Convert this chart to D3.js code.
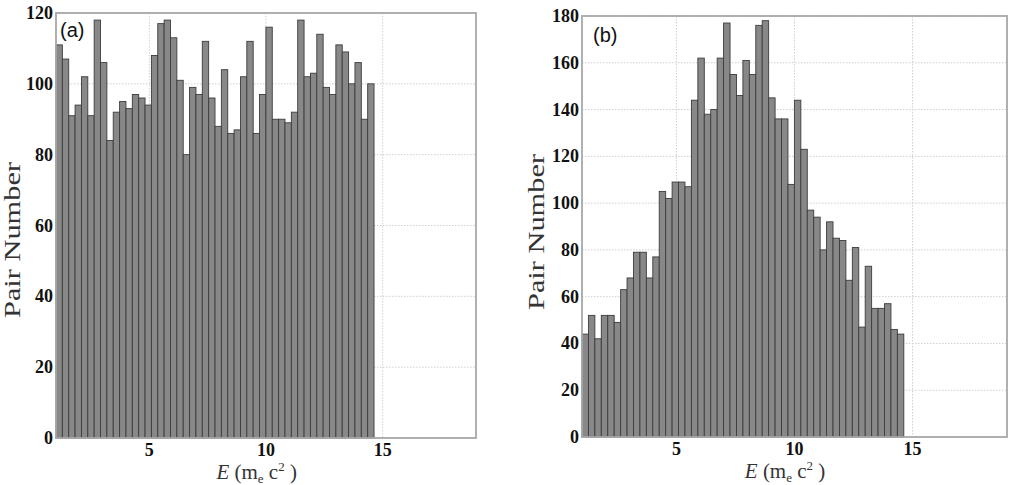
<!DOCTYPE html>
<html>
<head>
<meta charset="utf-8">
<script src="https://cdn.jsdelivr.net/npm/d3@7"></script>
<style>
  body { margin: 0; background: #fff; }
  .tick-label { font-family: "Liberation Serif", "DejaVu Serif", serif; font-weight: bold; font-size: 18px; fill: #111; }
  .ylab { font-family: "Liberation Serif", serif; font-size: 23px; fill: #333; }
  .xlab { font-family: "Liberation Serif", serif; font-size: 21px; fill: #333; }
  .panel-tag { font-family: "Liberation Sans", "DejaVu Sans", sans-serif; font-size: 20px; fill: #111; }
</style>
</head>
<body>
<svg id="chart" width="1014" height="485"></svg>
<script>
// energy bins (m_e c^2): 50 bins starting at E = 1
const binStart = 1;
const binWidth = 0.2726;
const xTicks = [5, 10, 15];

// panel (a) counts
const countsA = [111, 107, 91, 94, 102, 91, 118, 106, 84, 92,
                 95, 93, 97, 96, 94, 108, 117, 118, 113, 101,
                 80, 99, 97, 112, 96, 88, 104, 86, 87, 102,
                 112, 86, 97, 116, 90, 90, 89, 92, 118, 102,
                 103, 114, 99, 97, 111, 109, 100, 106, 90, 100];
const yTicksA = [0, 20, 40, 60, 80, 100, 120];

// panel (b) counts
const countsB = [44, 52, 42, 52, 52, 49, 63, 68, 79, 79,
                 68, 77, 105, 102, 109, 109, 107, 144, 162, 138,
                 140, 162, 177, 155, 146, 161, 155, 176, 178, 145,
                 136, 136, 108, 144, 123, 97, 94, 80, 92, 85,
                 84, 67, 81, 47, 73, 55, 55, 57, 46, 44];
const yTicksB = [0, 20, 40, 60, 80, 100, 120, 140, 160, 180];

const svg = d3.select("#chart");

function drawPanel(opt) {
  const g = svg.append("g");
  const x = d3.scaleLinear().domain([1, 19]).range([opt.left, opt.right]);
  const y = d3.scaleLinear().domain([0, opt.yMax]).range([opt.bottom, opt.top]);

  // grid
  g.selectAll(".gy").data(opt.yTicks).join("line")
    .attr("x1", opt.left).attr("x2", opt.right)
    .attr("y1", d => y(d)).attr("y2", d => y(d))
    .attr("stroke", "#cfcfcf").attr("stroke-width", 1)
    .attr("stroke-dasharray", "1.5,1.5");
  g.selectAll(".gx").data(xTicks).join("line")
    .attr("x1", d => x(d)).attr("x2", d => x(d))
    .attr("y1", opt.top).attr("y2", opt.bottom)
    .attr("stroke", "#cfcfcf").attr("stroke-width", 1)
    .attr("stroke-dasharray", "1.5,1.5");

  // bars
  g.selectAll(".bar").data(opt.counts).join("rect")
    .attr("x", (d, i) => x(binStart + i * binWidth))
    .attr("width", (d, i) => x(binStart + (i + 1) * binWidth) - x(binStart + i * binWidth))
    .attr("y", d => y(d))
    .attr("height", d => y(0) - y(d))
    .attr("fill", "#888888")
    .attr("stroke", "#3c3c3c")
    .attr("stroke-width", 0.9);

  // frame
  g.append("rect")
    .attr("x", opt.left).attr("y", opt.top)
    .attr("width", opt.right - opt.left).attr("height", opt.bottom - opt.top)
    .attr("fill", "none").attr("stroke", "#a8a8a8").attr("stroke-width", 1.8);

  // tick labels
  g.selectAll(".yt").data(opt.yTicks).join("text")
    .attr("class", "tick-label")
    .attr("x", opt.left - 3).attr("y", d => y(d) + 6)
    .attr("text-anchor", "end")
    .text(d => d);
  g.selectAll(".xt").data(xTicks).join("text")
    .attr("class", "tick-label")
    .attr("x", d => x(d)).attr("y", opt.bottom + 18)
    .attr("text-anchor", "middle")
    .text(d => d);

  // axis labels
  g.append("text").attr("class", "ylab")
    .attr("transform", `translate(${opt.ylabX}, ${opt.ylabY}) rotate(-90)`)
    .attr("text-anchor", "middle")
    .attr("textLength", 156).attr("lengthAdjust", "spacingAndGlyphs")
    .text("Pair Number");

  const xl = g.append("text").attr("class", "xlab")
    .attr("x", x(9.6)).attr("y", opt.bottom + 41)
    .attr("text-anchor", "middle");
  xl.append("tspan").attr("font-style", "italic").text("E");
  xl.append("tspan").text(" (m");
  xl.append("tspan").attr("font-size", "13px").attr("dy", 4).text("e");
  xl.append("tspan").attr("dy", -4).text(" c");
  xl.append("tspan").attr("font-size", "13px").attr("dy", -8).text("2");
  xl.append("tspan").attr("dy", 8).text("  )");

  g.append("text").attr("class", "panel-tag")
    .attr("x", opt.left + opt.tagDx).attr("y", opt.top + opt.tagDy)
    .text(opt.tag);
}

drawPanel({ counts: countsA, yTicks: yTicksA, yMax: 120, tag: "(a)", tagDx: 4, tagDy: 24,
            left: 56, right: 476, top: 13, bottom: 438, ylabX: 20, ylabY: 240 });
drawPanel({ counts: countsB, yTicks: yTicksB, yMax: 180, tag: "(b)", tagDx: 11, tagDy: 26,
            left: 582, right: 1007, top: 16, bottom: 437, ylabX: 544, ylabY: 232 });
</script>
</body>
</html>
